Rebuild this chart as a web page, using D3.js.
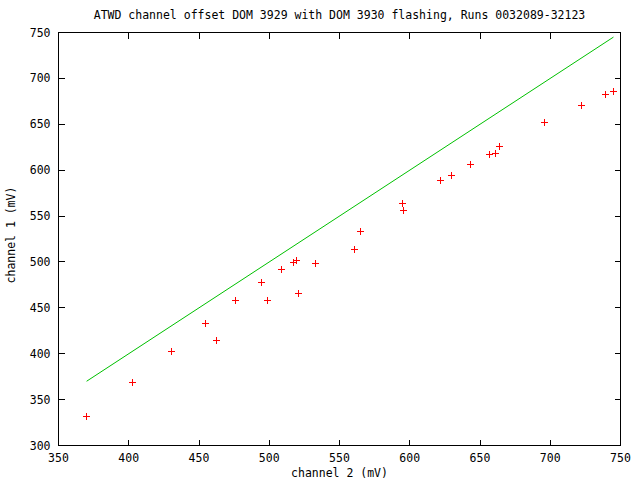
<!DOCTYPE html>
<html><head><meta charset="utf-8">
<script src="https://cdn.jsdelivr.net/npm/d3@7"></script>
<style>body{margin:0;background:#fff}svg text{font-family:"DejaVu Sans Mono",monospace;font-size:11.5px;fill:#000}</style>
</head><body><svg id="c" width="640" height="480"></svg>
<script>
const title = "ATWD channel offset DOM 3929 with DOM 3930 flashing, Runs 0032089-32123";
const xLabel = "channel 2 (mV)";
const yLabel = "channel 1 (mV)";
const ch2 = [369.8,402.5,430.2,454.4,461.8,475.7,494.2,498.5,508.5,517.0,519.1,520.6,532.6,560.4,564.6,594.5,595.2,621.5,629.4,642.9,656.4,660.7,663.5,695.5,721.8,738.9,744.6];
const ch1 = [332.3,369.2,402.9,433.4,414.9,458.7,477.9,458.4,492.0,499.6,502.2,466.0,498.6,513.8,533.4,563.8,556.2,588.8,594.2,606.2,617.1,619.2,626.8,652.9,671.4,683.4,686.6];
const xTicks = [350,400,450,500,550,600,650,700,750];
const yTicks = [300,350,400,450,500,550,600,650,700,750];
const refLine = [370, 745]; // y = x

const svg = d3.select("#c");
const L=58.5, R=620.5, T=32.5, B=445.5;
const x = d3.scaleLinear().domain([350,750]).range([L,R]);
const y = d3.scaleLinear().domain([300,750]).range([B,T]);

const tl = 6;
const g = svg.append("g").attr("shape-rendering","crispEdges");
xTicks.forEach(t=>{
  g.append("line").attr("x1",x(t)).attr("x2",x(t)).attr("y1",B).attr("y2",B-tl).attr("stroke","#000");
  g.append("line").attr("x1",x(t)).attr("x2",x(t)).attr("y1",T).attr("y2",T+tl).attr("stroke","#000");
  svg.append("text").attr("x",x(t)).attr("y",B+16).attr("text-anchor","middle").text(t);
});
yTicks.forEach(t=>{
  g.append("line").attr("x1",L).attr("x2",L+tl).attr("y1",y(t)).attr("y2",y(t)).attr("stroke","#000");
  g.append("line").attr("x1",R).attr("x2",R-tl).attr("y1",y(t)).attr("y2",y(t)).attr("stroke","#000");
  svg.append("text").attr("x",L-8).attr("y",y(t)+4).attr("text-anchor","end").text(t);
});
g.append("rect").attr("x",L).attr("y",T).attr("width",R-L).attr("height",B-T).attr("fill","none").attr("stroke","#000");

svg.append("path").datum(refLine)
  .attr("d", d3.line().x(d=>x(d)).y(d=>y(d)))
  .attr("stroke","#00c000").attr("stroke-width",1).attr("fill","none");

const s=3.5;
const pts = svg.append("g").attr("stroke","#ff0000").attr("stroke-width",1.3).attr("shape-rendering","crispEdges");
ch2.forEach((v,i)=>{
  const px=Math.round(x(v))+0.5, py=Math.round(y(ch1[i]))+0.5;
  pts.append("path").attr("d",`M${px-s},${py}H${px+s}M${px},${py-s}V${py+s}`);
});

svg.append("text").attr("x",(L+R)/2).attr("y",19).attr("text-anchor","middle").text(title);
svg.append("text").attr("x",(L+R)/2).attr("y",477).attr("text-anchor","middle").text(xLabel);
svg.append("text").attr("transform","translate(15,235) rotate(-90)").attr("text-anchor","middle").text(yLabel);
</script></body></html>
